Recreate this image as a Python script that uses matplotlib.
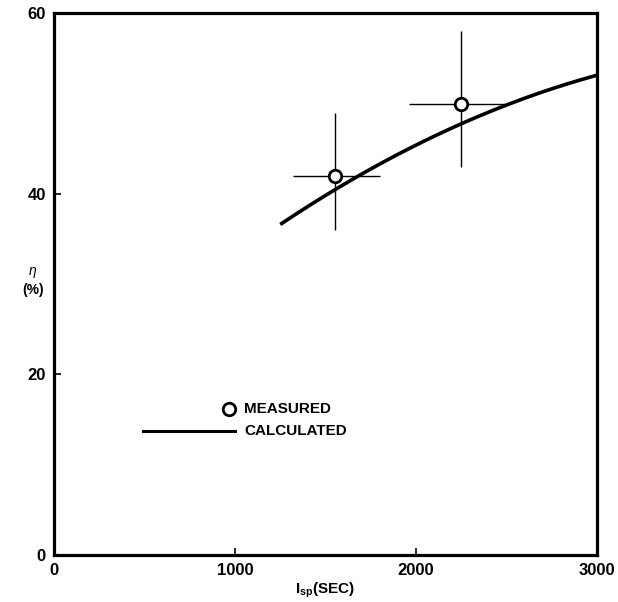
import matplotlib
matplotlib.use('Agg')
import matplotlib.pyplot as plt
import numpy as np

plt.rcParams['font.family'] = ['Liberation Sans', 'DejaVu Sans']
plt.rcParams['mathtext.fontset'] = 'custom'
plt.rcParams['mathtext.it'] = 'Liberation Sans:italic'
plt.rcParams['mathtext.bf'] = 'Liberation Sans:bold'

# measured points with error bars
meas_isp = [1550, 2250]
meas_eta = [42, 50]
isp_err_lo = [230, 290]
isp_err_hi = [250, 270]
eta_err_lo = [6, 7]
eta_err_hi = [7, 8]

# calculated curve
calc_isp = [1250, 1550, 1900, 2250, 2600, 3000]
calc_eta = [36.5, 40.6, 44.4, 47.7, 50.5, 53.2]

x_ticks = [0, 1000, 2000, 3000]
y_ticks = [0, 20, 40, 60]

fig = plt.figure(figsize=(6.18, 6.02), dpi=100)
ax = fig.add_axes([0.0874, 0.078, 0.8786, 0.9])

# smooth the calculated curve through the read points
xs = np.linspace(calc_isp[0], calc_isp[-1], 200)
coef = np.polyfit(calc_isp, calc_eta, 2)
ax.plot(xs, np.polyval(coef, xs), color='black', lw=2.6, solid_capstyle='butt')

ax.errorbar(meas_isp, meas_eta,
            xerr=[isp_err_lo, isp_err_hi], yerr=[eta_err_lo, eta_err_hi],
            fmt='o', ms=9, mfc='white', mec='black', mew=2,
            ecolor='black', elinewidth=1.0, capsize=0, zorder=3)

# legend drawn by hand, as in the original figure
ax.plot([967], [16.2], 'o', ms=9, mfc='white', mec='black', mew=2, clip_on=False)
ax.text(1050, 16.2, 'MEASURED', fontsize=11, fontweight='bold', va='center')
ax.plot([490, 1000], [13.7, 13.7], color='black', lw=2.2)
ax.text(1050, 13.7, 'CALCULATED', fontsize=11, fontweight='bold', va='center')

ax.set_xlim(0, 3000)
ax.set_ylim(0, 60)
ax.set_xticks(x_ticks)
ax.set_yticks(y_ticks)
ax.tick_params(direction='in', length=5, width=1.2, labelsize=12, pad=6)
for lab in ax.get_xticklabels() + ax.get_yticklabels():
    lab.set_fontweight('bold')
for s in ax.spines.values():
    s.set_linewidth(2.3)

ax.set_xlabel(r'I$_{\mathbf{sp}}$(SEC)', fontsize=11, fontweight='bold', labelpad=2)
ax.text(-0.039, 0.522, r'$\eta$', transform=ax.transAxes, fontsize=10,
        ha='center', va='center')
ax.text(-0.039, 0.49, '(%)', transform=ax.transAxes, fontsize=10,
        fontweight='bold', ha='center', va='center')

fig.savefig('out.png', dpi=100)
